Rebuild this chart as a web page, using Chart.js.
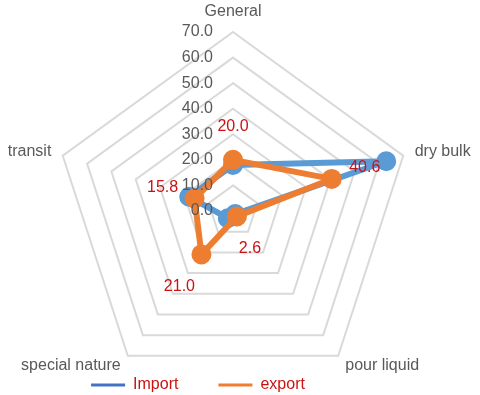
<!DOCTYPE html>
<html>
<head>
<meta charset="utf-8">
<script src="https://cdn.jsdelivr.net/npm/chart.js@4/dist/chart.umd.min.js"></script>
<style>
  html, body { margin: 0; padding: 0; background: #fff; }
  #wrap { width: 480px; height: 395px; }
</style>
</head>
<body>
<div id="wrap"><canvas id="radarChart"></canvas></div>
<script>
const categories = ["General", "dry bulk", "pour liquid", "special nature", "transit"];
const importValues = [18.0, 63.0, 1.5, 3.5, 18.0];
const exportValues = [20.0, 40.6, 2.6, 21.0, 15.8];
const tickValues = [0, 10, 20, 30, 40, 50, 60, 70];

const FONT = "'Liberation Sans', Arial, sans-serif";
const GRAY = "#595959";
const RED = "#CC1111";
const legendColors = ["#4472C4", "#ED7D31"];

// plot geometry (Excel puts the web a bit off-centre, labels hug it)
const CENTER_X = 233;
const CENTER_Y = 211;
const RADIUS = 179;

// offsets of the red value labels from each export point
const labelOffsets = [[0, -33], [33, -11], [13, 32], [-22, 32], [-32, -11]];

const webLabels = {
  id: "webLabels",
  afterDatasetsDraw(chart) {
    const scale = chart.scales.r;
    const ctx = chart.ctx;
    ctx.save();
    ctx.font = "16px " + FONT;
    ctx.fillStyle = GRAY;

    // tick labels, left of the vertical axis
    ctx.textAlign = "right";
    ctx.textBaseline = "middle";
    tickValues.forEach((v) => {
      const d = scale.getDistanceFromCenterForValue(v);
      ctx.fillText(v.toFixed(1), scale.xCenter - 20, scale.yCenter - d);
    });

    // category labels
    categories.forEach((name, i) => {
      const p = scale.getPointPosition(i, scale.drawingArea + 12);
      const dx = p.x - scale.xCenter;
      if (Math.abs(dx) < 1) {
        ctx.textAlign = "center";
        ctx.textBaseline = "bottom";
      } else {
        ctx.textAlign = dx > 0 ? "left" : "right";
        ctx.textBaseline = "middle";
      }
      ctx.fillText(name, p.x, p.y);
    });
    ctx.restore();
  },
};

const valueLabels = {
  id: "valueLabels",
  afterDatasetsDraw(chart) {
    const meta = chart.getDatasetMeta(1);
    const ctx = chart.ctx;
    ctx.save();
    ctx.font = "16px " + FONT;
    ctx.fillStyle = RED;
    ctx.textAlign = "center";
    ctx.textBaseline = "middle";
    meta.data.forEach((pt, i) => {
      const [dx, dy] = labelOffsets[i];
      ctx.fillText(exportValues[i].toFixed(1), pt.x + dx, pt.y + dy);
    });
    ctx.restore();
  },
};

const legendShift = {
  id: "legendShift",
  afterLayout(chart) {
    const lg = chart.legend;
    lg.left -= 42;
    lg.right -= 42;
    lg.top += 8;
    lg.bottom += 8;
  },
};

const ctx = document.getElementById("radarChart").getContext("2d");

new Chart(ctx, {
  type: "radar",
  data: {
    labels: categories,
    datasets: [
      {
        label: "Import",
        data: importValues,
        borderColor: "#5B9BD5",
        pointBackgroundColor: "#5B9BD5",
        pointBorderColor: "#5B9BD5",
        borderWidth: 6,
        borderJoinStyle: "round",
        pointRadius: 7,
        fill: false,
        order: 1,
      },
      {
        label: "export",
        data: exportValues,
        borderColor: "#ED7D31",
        pointBackgroundColor: "#ED7D31",
        pointBorderColor: "#ED7D31",
        borderWidth: 6,
        borderJoinStyle: "round",
        pointRadius: 7,
        fill: false,
        order: 0,
      },
    ],
  },
  options: {
    responsive: true,
    maintainAspectRatio: false,
    animation: false,
    layout: { padding: 0 },
    scales: {
      r: {
        min: 0,
        max: 70,
        ticks: { stepSize: 10, display: false },
        grid: { color: "#D9D9D9", lineWidth: 2 },
        angleLines: { display: false },
        pointLabels: { display: false },
        afterFit: (scale) => {
          scale.xCenter = CENTER_X;
          scale.yCenter = CENTER_Y;
          scale.drawingArea = RADIUS;
        },
      },
    },
    plugins: {
      legend: {
        position: "bottom",
        labels: {
          color: RED,
          boxWidth: 34,
          boxHeight: 3,
          padding: 40,
          font: { family: FONT, size: 16 },
          generateLabels: (chart) =>
            Chart.defaults.plugins.legend.labels.generateLabels(chart).map((l) => ({
              ...l,
              fillStyle: legendColors[l.datasetIndex],
              strokeStyle: legendColors[l.datasetIndex],
              lineWidth: 0,
            })),
          sort: (a, b) => a.datasetIndex - b.datasetIndex,
        },
      },
      tooltip: { enabled: false },
    },
  },
  plugins: [webLabels, valueLabels, legendShift],
});
</script>
</body>
</html>
